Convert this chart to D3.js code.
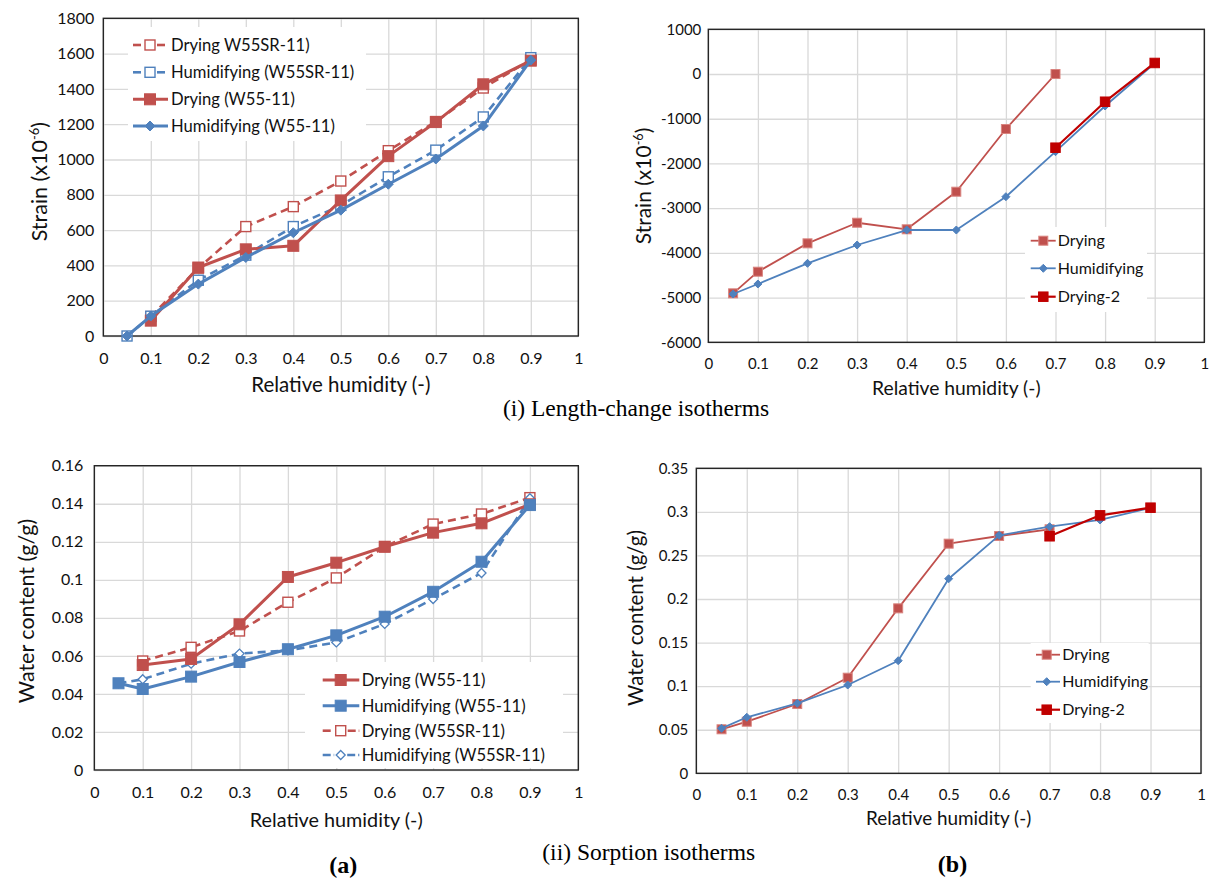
<!DOCTYPE html>
<html><head><meta charset="utf-8">
<script src="https://cdn.jsdelivr.net/npm/d3@7"></script>
<style>
body{margin:0;background:#fff;}
svg{display:block;}
</style></head>
<body>
<svg id="c" width="1210" height="881"></svg>
<script>
// ---------- DATA ----------
const rh = [0.05, 0.1, 0.2, 0.3, 0.4, 0.5, 0.6, 0.7, 0.8, 0.9];
const rhDrying2 = [0.7, 0.8, 0.9];
const xTicks = [0, 0.1, 0.2, 0.3, 0.4, 0.5, 0.6, 0.7, 0.8, 0.9, 1];

// (i)(a) length-change isotherms, strain x1e-6
const strainDryingSR_a = [null, 110, 385, 620, 733, 878, 1050, 1215, 1405, 1565];
const strainHumidSR_a  = [0, 112, 316, 458, 620, 740, 902, 1053, 1241, 1577];
const strainDryingW55_a = [null, 87, 388, 491, 511, 768, 1019, 1212, 1426, 1560];
const strainHumidW55_a = [0, 113, 294, 445, 585, 713, 860, 1003, 1190, 1563];
const strainTicks_a = [0, 200, 400, 600, 800, 1000, 1200, 1400, 1600, 1800];

// (i)(b)
const strainDrying_b = [-4905, -4421, -3787, -3326, -3473, -2632, -1230, 0];
const strainHumid_b = [-4920, -4696, -4234, -3824, -3489, -3489, -2744, -1737, -715, 240];
const strainDrying2_b = [-1648, -620, 247];
const strainTicks_b = [-6000, -5000, -4000, -3000, -2000, -1000, 0, 1000];

// (ii)(a) sorption isotherms, water content g/g
const wcDryingW55_a = [null, 0.0552, 0.0584, 0.0766, 0.1015, 0.109, 0.1174, 0.1248, 0.1297, 0.1397];
const wcHumidW55_a = [0.0456, 0.0426, 0.0491, 0.0568, 0.0635, 0.0708, 0.0806, 0.0937, 0.1095, 0.1393];
const wcDryingSR_a = [null, 0.0573, 0.0645, 0.0731, 0.0882, 0.101, 0.1174, 0.1293, 0.1346, 0.1432];
const wcHumidSR_a = [0.0456, 0.0477, 0.0559, 0.0612, 0.0629, 0.0671, 0.0768, 0.0899, 0.1036, 0.1429];
const wcTicks_a = [0, 0.02, 0.04, 0.06, 0.08, 0.1, 0.12, 0.14, 0.16];

// (ii)(b)
const wcDrying_b = [0.0505, 0.0592, 0.0795, 0.1097, 0.1893, 0.2635, 0.2723, 0.28];
const wcHumid_b = [0.0516, 0.0643, 0.0803, 0.1013, 0.1292, 0.2233, 0.2731, 0.283, 0.2907, 0.3045];
const wcDrying2_b = [0.272, 0.296, 0.3048];
const wcTicks_b = [0, 0.05, 0.1, 0.15, 0.2, 0.25, 0.3, 0.35];

const xTitle = "Relative humidity (-)";
const captions = ["(i) Length-change isotherms", "(ii) Sorption isotherms", "(a)", "(b)"];

// ---------- STYLE ----------
const RED = "#c0504d", BLUE = "#4f81bd", DRED = "#c00000";
const FONT = "Lato, 'Open Sans', sans-serif";
const TXT = "#111";
const svg = d3.select("#c");

function zip(xs, ys){ return xs.map((x,i)=>({x, y:ys[i]})).filter(d=>d.y!=null); }

function marker(g, type, x, y, s){
  const m = s.size;
  if(type==="square"){
    g.append("rect").attr("x",x-m/2).attr("y",y-m/2).attr("width",m).attr("height",m)
      .attr("fill", s.open ? "#fff" : s.color).attr("stroke", s.mstroke || s.color).attr("stroke-width", s.open?1.4:1);
  } else {
    const h = m/2;
    g.append("path").attr("d",`M${x},${y-h}L${x+h},${y}L${x},${y+h}L${x-h},${y}Z`)
      .attr("fill", s.open ? "#fff" : s.color).attr("stroke", s.color).attr("stroke-width", s.open?1.3:1);
  }
}

function drawChart(cfg){
  const {x0,x1,y0,y1} = cfg.plot;
  const x = d3.scaleLinear().domain([0,1]).range([x0,x1]);
  const y = d3.scaleLinear().domain(cfg.yDomain).range([y1,y0]);
  const g = svg.append("g");

  // grid
  g.append("g").attr("transform",`translate(0,${y1})`)
    .call(d3.axisBottom(x).tickValues(xTicks).tickSize(-(y1-y0)).tickFormat(""))
    .call(a=>a.select(".domain").remove())
    .call(a=>a.selectAll("line").attr("stroke","#d9d9d9").attr("stroke-width",1.3));
  g.append("g").attr("transform",`translate(${x0},0)`)
    .call(d3.axisLeft(y).tickValues(cfg.yTicks).tickSize(-(x1-x0)).tickFormat(""))
    .call(a=>a.select(".domain").remove())
    .call(a=>a.selectAll("line").attr("stroke","#d9d9d9").attr("stroke-width",1.3));

  // tick labels
  const xa = g.append("g").attr("transform",`translate(0,${y1})`)
    .call(d3.axisBottom(x).tickValues(xTicks).tickSize(0).tickPadding(cfg.xPad).tickFormat(d=>String(d)));
  xa.select(".domain").remove();
  xa.selectAll("text").attr("font-family",FONT).attr("font-size",cfg.tickFont).attr("fill",TXT);
  const ya = g.append("g").attr("transform",`translate(${x0},0)`)
    .call(d3.axisLeft(y).tickValues(cfg.yTicks).tickSize(0).tickPadding(cfg.yPad).tickFormat(d=>String(d)));
  ya.select(".domain").remove();
  ya.selectAll("text").attr("font-family",FONT).attr("font-size",cfg.tickFont).attr("fill",TXT);

  // frame
  g.append("rect").attr("x",x0).attr("y",y0).attr("width",x1-x0).attr("height",y1-y0)
    .attr("fill","none").attr("stroke","#262626").attr("stroke-width",1.4);

  // series
  const line = d3.line().x(d=>x(d.x)).y(d=>y(d.y));
  cfg.series.forEach(s=>{
    const pts = zip(s.xs, s.ys);
    g.append("path").datum(pts).attr("d",line).attr("fill","none")
      .attr("stroke",s.color).attr("stroke-width",s.width)
      .attr("stroke-dasharray", s.dash || null).attr("stroke-linejoin","round");
    pts.forEach(p=>marker(g, s.marker, x(p.x), y(p.y), s));
  });

  // legend
  const L = cfg.legend;
  g.append("rect").attr("x",L.box[0]).attr("y",L.box[1]).attr("width",L.box[2]).attr("height",L.box[3]).attr("fill","#fff");
  L.order.forEach((idx,i)=>{
    const s = cfg.series[idx];
    const yy = L.rows[i];
    if(s.dash){
      const mh = s.size/2 + 2;
      g.append("line").attr("x1",L.lx0).attr("x2",L.mx - mh).attr("y1",yy).attr("y2",yy).attr("stroke",s.color).attr("stroke-width",s.width).attr("stroke-dasharray",s.legDash);
      g.append("line").attr("x1",L.mx + mh).attr("x2",L.lx1).attr("y1",yy).attr("y2",yy).attr("stroke",s.color).attr("stroke-width",s.width).attr("stroke-dasharray",s.legDash);
    } else {
      g.append("line").attr("x1",L.lx0).attr("x2",L.lx1).attr("y1",yy).attr("y2",yy).attr("stroke",s.color).attr("stroke-width",s.width);
    }
    marker(g, s.marker, L.mx, yy, s);
    g.append("text").attr("x",L.tx).attr("y",yy).attr("dy","0.35em").attr("font-family",FONT)
      .attr("font-size",L.font).attr("fill",TXT).text(s.name);
  });

  // axis titles
  g.append("text").attr("x",(x0+x1)/2).attr("y",cfg.xTitleY).attr("text-anchor","middle").attr("dy","0.35em")
    .attr("font-family",FONT).attr("font-size",cfg.titleFont).attr("fill",TXT).text(xTitle);
  const yt = g.append("text").attr("transform",`translate(${cfg.yTitle[0]},${cfg.yTitle[1]}) rotate(-90)`)
    .attr("text-anchor","middle").attr("dy","0.35em")
    .attr("font-family",FONT).attr("font-size",cfg.yTitleFont).attr("fill",TXT);
  const f = cfg.yTitleFont;
  if(cfg.yLabel.sup){
    yt.append("tspan").text(cfg.yLabel.text);
    yt.append("tspan").attr("dy",-f*0.38).attr("font-size",f*0.6).text(cfg.yLabel.sup);
    yt.append("tspan").attr("dy",f*0.38).text(")");
  } else yt.text(cfg.yLabel.text);
}

// (i)(a)
drawChart({
  plot:{x0:103.3,x1:578.3,y0:18.3,y1:336}, yDomain:[0,1800], yTicks:strainTicks_a,
  tickFont:16, xPad:17, yPad:9, titleFont:20.5, yTitleFont:21.5, xTitleY:385, yTitle:[39.3,181.7],
  yLabel:{text:"Strain (x10", sup:"-6"},
  series:[
    {name:"Drying W55SR-11)", xs:rh, ys:strainDryingSR_a, color:RED, width:2.6, dash:"8,5", legDash:"8,3", marker:"square", open:true, size:10},
    {name:"Humidifying (W55SR-11)", xs:rh, ys:strainHumidSR_a, color:BLUE, width:2.6, dash:"8,5", legDash:"8,3", marker:"square", open:true, size:10},
    {name:"Drying (W55-11)", xs:rh, ys:strainDryingW55_a, color:RED, width:3, marker:"square", size:11},
    {name:"Humidifying (W55-11)", xs:rh, ys:strainHumidW55_a, color:BLUE, width:3, marker:"diamond", size:10}
  ],
  legend:{box:[128,27,238,114], order:[0,1,2,3], rows:[45,72.3,99.3,126], lx0:133, lx1:168, mx:150, tx:171, font:16.6}
});

// (i)(b)
drawChart({
  plot:{x0:708.3,x1:1204.3,y0:29.3,y1:342.3}, yDomain:[-6000,1000], yTicks:strainTicks_b,
  tickFont:15, xPad:16, yPad:7, titleFont:19.3, yTitleFont:21, xTitleY:388, yTitle:[644,186],
  yLabel:{text:"Strain (x10", sup:"-6"},
  series:[
    {name:"Drying", xs:rh, ys:strainDrying_b, color:RED, width:1.8, marker:"square", size:9, mstroke:"#d9847f"},
    {name:"Humidifying", xs:rh, ys:strainHumid_b, color:BLUE, width:1.8, marker:"diamond", size:8},
    {name:"Drying-2", xs:rhDrying2, ys:strainDrying2_b, color:DRED, width:2.2, marker:"square", size:9.5}
  ],
  legend:{box:[1025,227,122,85], order:[0,1,2], rows:[240.7,268.3,296.7], lx0:1030.7, lx1:1055.7, mx:1043.3, tx:1057.7, font:16}
});

// (ii)(a)
drawChart({
  plot:{x0:94.3,x1:578.3,y0:465.7,y1:770}, yDomain:[0,0.16], yTicks:wcTicks_a,
  tickFont:16, xPad:17, yPad:11, titleFont:19.8, yTitleFont:21.5, xTitleY:820, yTitle:[26,611],
  yLabel:{text:"Water content (g/g)"},
  series:[
    {name:"Drying (W55SR-11)", xs:rh, ys:wcDryingSR_a, color:RED, width:2.6, dash:"8,5", legDash:"8,3", marker:"square", open:true, size:10},
    {name:"Humidifying (W55SR-11)", xs:rh, ys:wcHumidSR_a, color:BLUE, width:2.6, dash:"8,5", legDash:"8,3", marker:"diamond", open:true, size:9},
    {name:"Drying (W55-11)", xs:rh, ys:wcDryingW55_a, color:RED, width:3, marker:"square", size:11},
    {name:"Humidifying (W55-11)", xs:rh, ys:wcHumidW55_a, color:BLUE, width:3, marker:"square", size:11}
  ],
  legend:{box:[305,662,258,106], order:[2,3,0,1], rows:[680,705.7,730.7,755], lx0:322.7, lx1:359.3, mx:340.7, tx:361.7, font:16.6}
});

// (ii)(b)
drawChart({
  plot:{x0:696.3,x1:1201,y0:468.3,y1:773.3}, yDomain:[0,0.35], yTicks:wcTicks_b,
  tickFont:15, xPad:16, yPad:8, titleFont:18.9, yTitleFont:20.5, xTitleY:818.3, yTitle:[636,618],
  yLabel:{text:"Water content (g/g)"},
  series:[
    {name:"Drying", xs:rh, ys:wcDrying_b, color:RED, width:1.8, marker:"square", size:9, mstroke:"#d9847f"},
    {name:"Humidifying", xs:rh, ys:wcHumid_b, color:BLUE, width:1.8, marker:"diamond", size:8},
    {name:"Drying-2", xs:rhDrying2, ys:wcDrying2_b, color:DRED, width:2.2, marker:"square", size:9.5}
  ],
  legend:{box:[1030.7,643,118,80], order:[0,1,2], rows:[654.7,681.7,709.7], lx0:1036, lx1:1060, mx:1046.7, tx:1062.3, font:16}
});

// captions
const SERIF = "'Liberation Serif','Times New Roman',serif";
svg.append("text").attr("x",636).attr("y",408).attr("dy","0.35em").attr("text-anchor","middle")
  .attr("font-family",SERIF).attr("font-size",23.5).text(captions[0]);
svg.append("text").attr("x",648.7).attr("y",851.7).attr("dy","0.35em").attr("text-anchor","middle")
  .attr("font-family",SERIF).attr("font-size",23.5).text(captions[1]);
svg.append("text").attr("x",343.3).attr("y",865).attr("dy","0.35em").attr("text-anchor","middle")
  .attr("font-family",SERIF).attr("font-weight","bold").attr("font-size",24).text(captions[2]);
svg.append("text").attr("x",952.5).attr("y",864).attr("dy","0.35em").attr("text-anchor","middle")
  .attr("font-family",SERIF).attr("font-weight","bold").attr("font-size",24).text(captions[3]);
</script>
</body></html>
